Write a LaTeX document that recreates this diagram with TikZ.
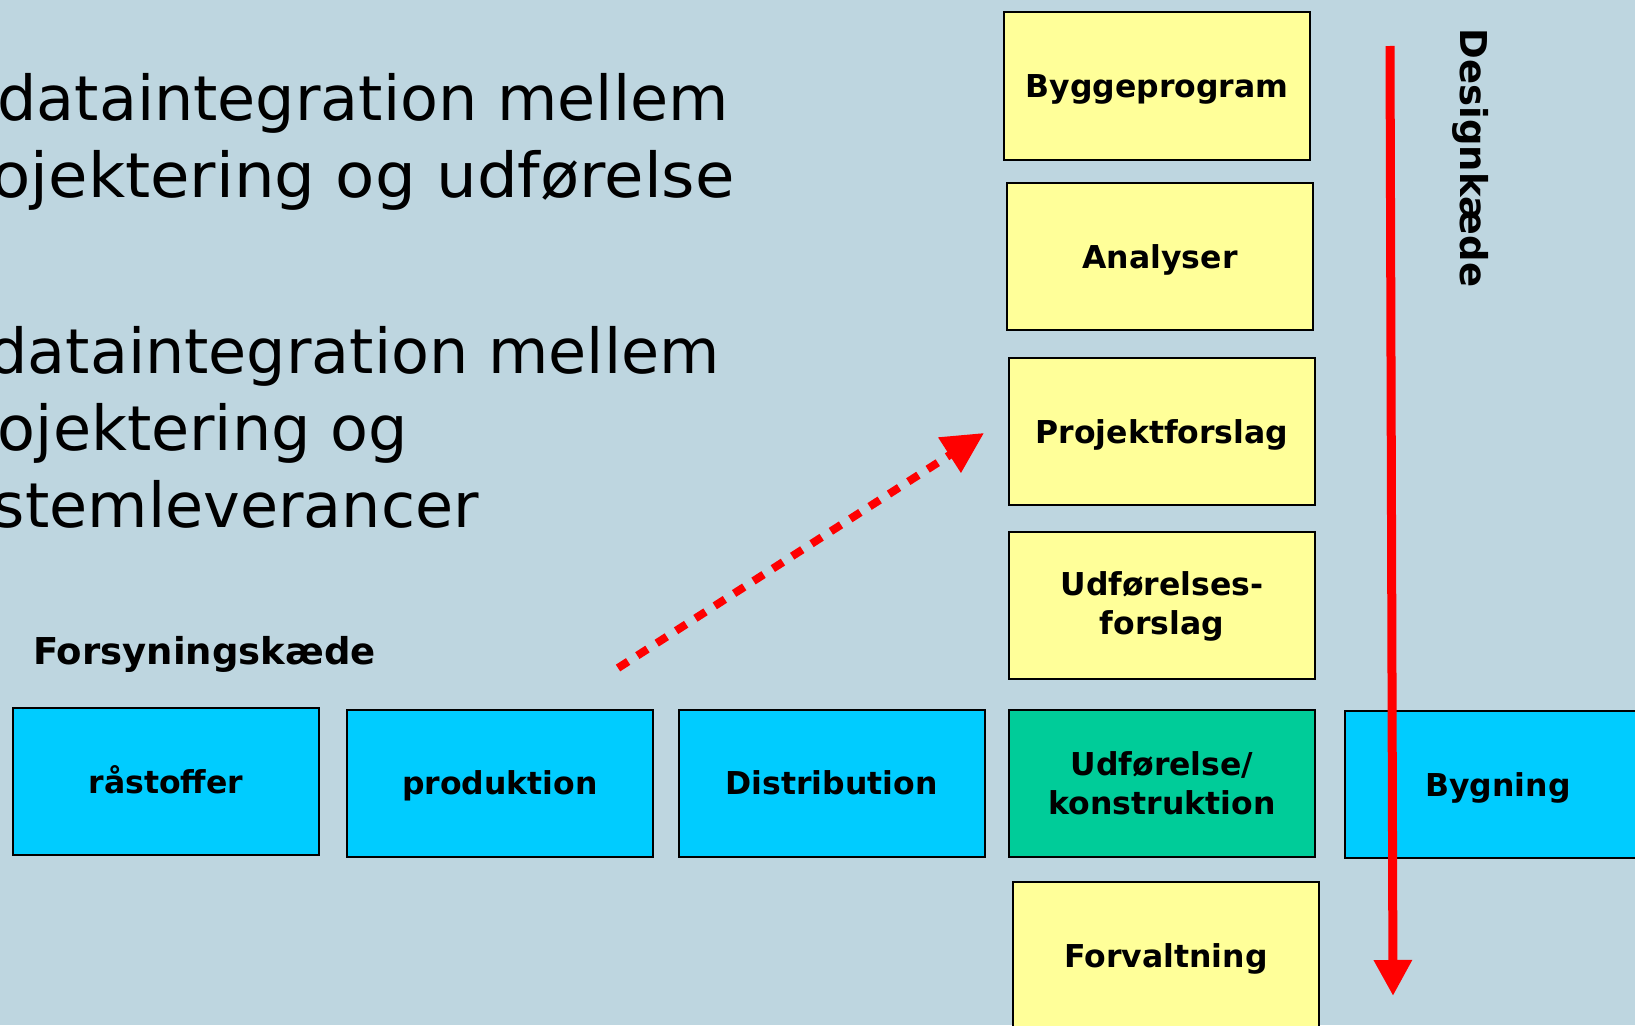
\documentclass[tikz,border=0pt]{standalone}
\usepackage{fontspec}
\setmainfont{DejaVu Sans}
\newfontfamily\widefont[FakeStretch=1.035]{DejaVu Sans}
\usetikzlibrary{arrows.meta}
\definecolor{bg}{RGB}{190,214,224}
\definecolor{boxyellow}{RGB}{255,255,153}
\definecolor{boxcyan}{RGB}{0,204,255}
\definecolor{boxgreen}{RGB}{0,204,153}
\definecolor{arrowred}{RGB}{255,0,0}
\begin{document}
\begin{tikzpicture}[x=1pt,y=-1pt,
  stagebox/.style={draw=black, line width=2pt, minimum width=306pt, minimum height=147pt,
    inner sep=0pt, align=center, text=black,
    font=\fontsize{31.5}{38.5}\selectfont\bfseries},
  oneline/.style={text height=23pt, text depth=0pt},
  designbox/.style={stagebox, fill=boxyellow},
  supplybox/.style={stagebox, fill=boxcyan},
  sharedbox/.style={stagebox, fill=boxgreen},
  bigtext/.style={anchor=base east, inner sep=0pt, font=\fontsize{62}{76}\selectfont, text=black},
  chainlabel/.style={inner sep=0pt, font=\fontsize{37}{44}\selectfont\bfseries, text=black},
  redflow/.style={draw=arrowred, line width=9pt, -{Triangle[length=36pt,width=36pt]}},
  reddots/.style={draw=arrowred, line width=8pt, dash pattern=on 12pt off 11pt, -{Triangle[length=41pt,width=40pt]}}
]
\useasboundingbox (0,0) rectangle (1635,1025);
\clip (0,0) rectangle (1635,1025);
\fill[bg] (0,0) rectangle (1635,1025);

% large text
\node[bigtext] (t1) at (729,120) {dataintegration mellem};
\node[bigtext, font=\fontsize{62}{76}\widefont] (t2) at (735,197) {projektering og udførelse};
\node[bigtext] (t3) at (720,373) {dataintegration mellem};
\node[bigtext] (t4) at (408,450) {projektering og};
\node[bigtext] (t5) at (479,527) {systemleverancer};

% design chain (vertical)
\node[designbox, oneline] (bygge) at (1157,86) {Byggeprogram};
\node[designbox, oneline] (analyser) at (1160,256.5) {Analyser};
\node[designbox, oneline] (proj) at (1162,431.5) {Projektforslag};
\node[designbox] (udfforslag) at (1162,605) {\strut Udførelses-\\forslag};
\node[sharedbox] (udf) at (1162,783) {Udførelse/\\konstruktion};
\node[designbox, oneline] (forv) at (1166,955.5) {Forvaltning};

% supply chain (horizontal)
\node[supplybox, oneline] (raa) at (166,781.5) {råstoffer};
\node[supplybox, oneline] (prod) at (500,783) {produktion};
\node[supplybox, oneline] (dist) at (831.5,783) {Distribution};
\node[supplybox, oneline] (bygning) at (1498,784.5) {Bygning};

% labels
\node[chainlabel, anchor=base west] (forsyning) at (33,664) {Forsyningskæde};
\node[chainlabel, rotate=-90] (designlabel) at (1471,158) {Designkæde};

% arrows
\coordinate (dtop) at (1390,46);
\coordinate (dbot) at (1393,996);
\draw[redflow] (dtop) -- (dbot);

\coordinate (dstart) at (618,668);
\coordinate (dend) at (984,433);
\draw[reddots] (dstart) -- (dend);
\end{tikzpicture}
\end{document}
